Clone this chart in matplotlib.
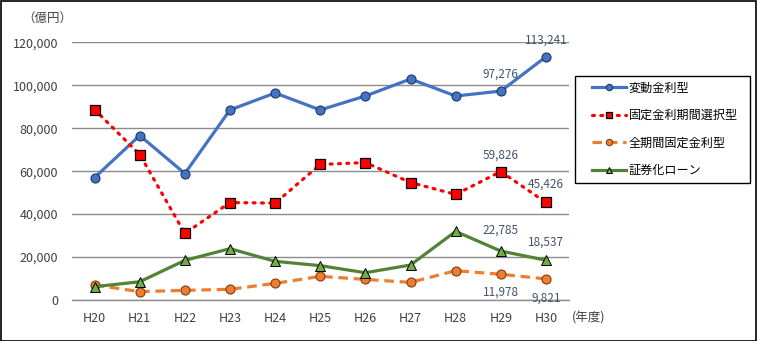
import matplotlib
matplotlib.use("Agg")
import matplotlib.pyplot as plt
from matplotlib.patches import Rectangle

plt.rcParams['font.family'] = ['Noto Sans CJK JP', 'DejaVu Sans']

years = ["H20", "H21", "H22", "H23", "H24", "H25", "H26", "H27", "H28", "H29", "H30"]
variable = [57000, 76600, 58900, 88500, 96400, 88500, 95000, 102900, 95000, 97276, 113241]
fixed_period = [88700, 67750, 31000, 45400, 45100, 63100, 64000, 54700, 49150, 59826, 45426]
full_fixed = [7000, 3900, 4500, 5000, 7750, 11000, 9600, 8200, 13650, 11978, 9821]
securitized = [6200, 8500, 18450, 23900, 18000, 16000, 12700, 16300, 31950, 22785, 18537]
series_names = ["変動金利型", "固定金利期間選択型", "全期間固定金利型", "証券化ローン"]
yticks = [0, 20000, 40000, 60000, 80000, 100000, 120000]

W, H = 757, 341
fig = plt.figure(figsize=(W / 100, H / 100), dpi=100)
ax = fig.add_axes([72 / W, 1 - 300 / H, (568.5 - 72) / W, (300 - 42.3) / H])

x = list(range(len(years)))
ax.plot(x, variable, color="#4472C4", lw=2.3, marker="o", ms=6.5,
        mfc="#4472C4", mec="#1F3864", mew=0.8, label=series_names[0], zorder=4)
ax.plot(x, fixed_period, color="#FF0000", lw=2.3, ls=(0, (0.6, 2.0)), dash_capstyle="round",
        marker="s", ms=6.5, mfc="#FF0000", mec="black", mew=0.9, label=series_names[1], zorder=4)
ax.plot(x, full_fixed, color="#ED7D31", lw=2.3, ls=(0, (3.0, 1.8)),
        marker="o", ms=6.5, mfc="#ED7D31", mec="#843C0C", mew=0.8, label=series_names[2], zorder=3)
ax.plot(x, securitized, color="#548235", lw=2.3, marker="^", ms=6.5,
        mfc="#70AD47", mec="black", mew=0.7, label=series_names[3], zorder=3)

lab_color = "#44546A"
def lab(i, series, dy):
    v = series[i]
    ax.annotate(f"{v:,}", (i, v), xytext=(0, dy), textcoords="offset points",
                ha="center", va="center", fontsize=8.5, color=lab_color,
                annotation_clip=False, family=["Noto Sans CJK JP", "DejaVu Sans"])

lab(9, variable, 12.5)
lab(10, variable, 12)
lab(9, fixed_period, 12)
lab(10, fixed_period, 13)
lab(9, securitized, 15)
lab(10, securitized, 13)
lab(9, full_fixed, -13)
lab(10, full_fixed, -14)

ax.set_xlim(-0.5, len(years) - 0.5)
ax.set_ylim(0, 120000)
ax.set_yticks(yticks)
ax.set_yticklabels([f"{v:,}" for v in yticks])
ax.set_xticks(x)
ax.set_xticklabels(years)
ax.tick_params(axis="both", length=0, labelsize=9, colors="#404040")
ax.tick_params(axis="y", pad=10)
ax.tick_params(axis="x", pad=9)
ax.grid(axis="y", color="#8C8C8C", lw=1)
ax.set_axisbelow(True)
for s in ["top", "right", "left"]:
    ax.spines[s].set_visible(False)
ax.spines["bottom"].set_color("#8C8C8C")
ax.spines["bottom"].set_linewidth(1)

fig.text(22 / W, 1 - 18 / H, "（億円）", fontsize=9, color="#404040", ha="left", va="center")
fig.text(572 / W, 1 - 318 / H, "(年度)", fontsize=9, color="#404040", ha="left", va="center")

leg = fig.legend(loc="upper left", bbox_to_anchor=(591.5 / W, 1 - 81.5 / H),
                 fontsize=8.7, frameon=False, borderpad=0, borderaxespad=0,
                 handlelength=2.85, labelspacing=1.2, handletextpad=0.25,
                 markerscale=0.7)

fig.patches.append(Rectangle((574.7 / W, 1 - 183.3 / H), (750 - 574.7) / W, (183.3 - 76.3) / H,
                             transform=fig.transFigure, fill=False, edgecolor="black", lw=1.0))
fig.patches.append(Rectangle((0.5 / W, 0.5 / H), 1 - 1.5 / W, 1 - 1.5 / H,
                             transform=fig.transFigure, fill=False, edgecolor="black", lw=1.2))

fig.savefig("out.png", dpi=100)
